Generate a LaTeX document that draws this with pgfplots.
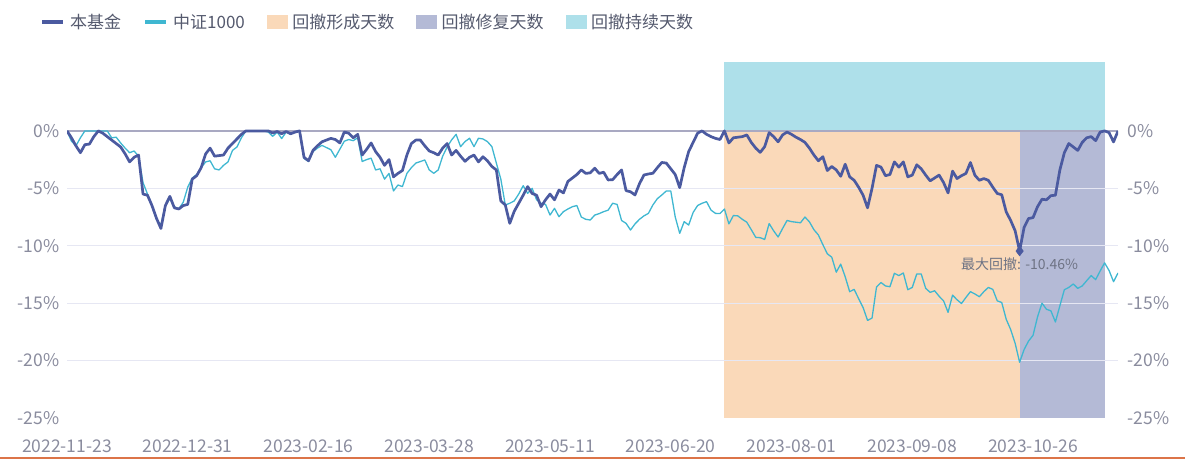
\documentclass[border=0pt]{standalone}
\usepackage{fontspec}
\setmainfont{Noto Sans CJK SC}
\usepackage{pgfplots}
\usepackage{pgfplotstable}
\pgfplotsset{compat=1.18}
\definecolor{fundc}{HTML}{4B5AA0}
\definecolor{idxc}{HTML}{3FB7D1}
\definecolor{orgc}{HTML}{FAD9B9}
\definecolor{purc}{HTML}{B4BAD6}
\definecolor{cyac}{HTML}{AEE0EA}
\definecolor{zeroc}{HTML}{A9A9C2}
\definecolor{gridc}{HTML}{E6E7F3}
\definecolor{tickc}{HTML}{8A8C9E}
\definecolor{legc}{HTML}{555A6E}
\definecolor{botc}{HTML}{DC7448}

\pgfplotstableread{
x y
0 0
1 -0.6
2 -1.3
3 -1.9
4 -1.2
5 -1.15
6 -0.5
7 0
8 -0.2
9 -0.5
10 -0.8
11 -1.1
12 -1.4
13 -2.0
14 -2.7
15 -2.3
16 -2.1
17 -5.5
18 -5.6
19 -6.5
20 -7.6
21 -8.5
22 -6.5
23 -5.7
24 -6.7
25 -6.8
26 -6.5
27 -6.4
28 -4.2
29 -3.9
30 -3.2
31 -2.0
32 -1.5
33 -2.2
34 -2.15
35 -2.1
36 -1.5
37 -1.1
38 -0.7
39 -0.3
40 0
41 0
42 0
43 0
44 0
45 0
46 -0.18
47 -0.05
48 -0.25
49 -0.05
50 -0.25
51 -0.1
52 0
53 -2.3
54 -2.6
55 -1.7
56 -1.3
57 -0.95
58 -0.8
59 -0.65
60 -0.75
61 -1.05
62 -0.1
63 -0.2
64 -0.6
65 -0.3
66 -2.1
67 -1.6
68 -1.05
69 -1.8
70 -2.3
71 -3.0
72 -2.5
73 -4.0
74 -3.7
75 -3.45
76 -2.1
77 -1.1
78 -0.8
79 -0.8
80 -1.3
81 -1.75
82 -1.9
83 -2.1
84 -1.5
85 -1.1
86 -2.1
87 -1.7
88 -2.2
89 -2.65
90 -2.3
91 -2.1
92 -2.7
93 -2.25
94 -2.6
95 -3.1
96 -3.4
97 -6.1
98 -6.45
99 -8.05
100 -7.0
101 -6.3
102 -5.6
103 -4.85
104 -5.45
105 -5.6
106 -6.6
107 -6.0
108 -5.5
109 -6.0
110 -5.15
111 -5.4
112 -4.4
113 -4.1
114 -3.8
115 -3.4
116 -3.7
117 -3.65
118 -3.25
119 -3.7
120 -3.6
121 -4.27
122 -4.25
123 -3.8
124 -3.4
125 -5.2
126 -5.3
127 -5.58
128 -4.6
129 -3.84
130 -3.75
131 -3.69
132 -3.2
133 -2.75
134 -2.8
135 -3.3
136 -3.8
137 -4.94
138 -3.2
139 -1.8
140 -1.0
141 -0.2
142 0
143 -0.3
144 -0.5
145 -0.65
146 -0.75
147 0
148 -1.05
149 -0.6
150 -0.55
151 -0.5
152 -0.35
153 -1.0
154 -1.5
155 -1.87
156 -1.37
157 -0.15
158 -0.5
159 -0.95
160 -0.35
161 -0.1
162 -0.3
163 -0.55
164 -0.75
165 -1.0
166 -1.5
167 -2.1
168 -2.6
169 -2.25
170 -3.45
171 -3.1
172 -3.4
173 -3.95
174 -2.9
175 -4.0
176 -4.3
177 -4.9
178 -5.6
179 -6.7
180 -5.0
181 -3.0
182 -3.15
183 -3.9
184 -3.8
185 -2.7
186 -3.15
187 -2.7
188 -4.0
189 -3.85
190 -2.95
191 -3.3
192 -3.85
193 -4.35
194 -4.1
195 -3.85
196 -4.5
197 -5.4
198 -3.5
199 -4.15
200 -3.9
201 -3.7
202 -2.75
203 -3.86
204 -4.3
205 -4.15
206 -4.3
207 -4.9
208 -5.45
209 -5.56
210 -7.05
211 -7.8
212 -8.7
213 -10.46
214 -8.4
215 -7.63
216 -7.55
217 -6.6
218 -5.95
219 -6.0
220 -5.64
221 -5.6
222 -3.4
223 -1.9
224 -1.1
225 -1.4
226 -1.7
227 -1.0
228 -0.6
229 -0.5
230 -0.85
231 -0.1
232 0
233 -0.15
234 -0.96
235 0
}\fundtable

\pgfplotstableread{
x y
0 0
1 -0.9
2 -1.3
3 -0.6
4 0
5 0
6 0
7 0
8 0
9 0
10 -0.6
11 -0.55
12 -1.05
13 -1.5
14 -1.9
15 -1.75
16 -2.2
17 -4.5
18 -5.5
19 -6.5
20 -7.7
21 -8.2
22 -6.5
23 -5.9
24 -6.6
25 -6.8
26 -6.2
27 -4.9
28 -4.1
29 -3.8
30 -3.2
31 -2.7
32 -2.6
33 -3.3
34 -3.4
35 -3.0
36 -2.7
37 -1.7
38 -1.4
39 -0.6
40 0
41 0
42 0
43 0
44 0
45 -0.1
46 -0.47
47 -0.1
48 -0.67
49 -0.1
50 -0.3
51 -0.1
52 0
53 -2.4
54 -2.66
55 -1.8
56 -1.5
57 -1.26
58 -1.45
59 -1.64
60 -2.3
61 -1.6
62 -0.9
63 -0.75
64 -0.85
65 -0.6
66 -2.66
67 -2.5
68 -2.37
69 -3.4
70 -3.3
71 -4.2
72 -3.7
73 -5.23
74 -4.71
75 -4.85
76 -3.7
77 -3.2
78 -2.8
79 -2.67
80 -2.53
81 -3.4
82 -3.69
83 -3.4
84 -2.2
85 -1.4
86 -0.78
87 -0.3
88 -1.37
89 -0.93
90 -0.64
91 -1.37
92 -0.64
93 -0.7
94 -0.93
95 -1.37
96 -2.8
97 -4.2
98 -6.45
99 -6.3
100 -6.1
101 -5.5
102 -4.77
103 -5.44
104 -5.0
105 -6.0
106 -6.3
107 -6.4
108 -7.33
109 -6.74
110 -7.47
111 -7.03
112 -6.8
113 -6.6
114 -6.5
115 -7.5
116 -7.7
117 -7.76
118 -7.33
119 -7.2
120 -7.03
121 -6.9
122 -6.3
123 -6.4
124 -7.8
125 -8.05
126 -8.63
127 -8.1
128 -7.7
129 -7.4
130 -7.18
131 -6.45
132 -5.9
133 -5.58
134 -5.23
135 -5.23
136 -7.5
137 -8.92
138 -7.9
139 -8.2
140 -7.1
141 -6.5
142 -6.3
143 -6.16
144 -6.9
145 -7.18
146 -7.2
147 -6.8
148 -8.1
149 -7.37
150 -7.4
151 -7.7
152 -7.95
153 -8.6
154 -9.27
155 -9.3
156 -9.45
157 -8.07
158 -8.7
159 -9.24
160 -8.5
161 -7.8
162 -7.9
163 -7.95
164 -8.0
165 -7.5
166 -7.92
167 -8.6
168 -9.06
169 -9.9
170 -10.7
171 -11.0
172 -12.3
173 -11.6
174 -12.7
175 -14.0
176 -13.8
177 -14.6
178 -15.38
179 -16.5
180 -16.3
181 -13.6
182 -13.2
183 -13.5
184 -13.57
185 -12.4
186 -12.6
187 -12.37
188 -13.83
189 -13.63
190 -12.46
191 -12.46
192 -13.71
193 -14.06
194 -13.92
195 -14.4
196 -14.8
197 -15.8
198 -14.3
199 -14.7
200 -15.03
201 -14.5
202 -14.0
203 -14.2
204 -14.44
205 -14.0
206 -13.63
207 -13.8
208 -14.8
209 -14.94
210 -16.4
211 -17.3
212 -18.5
213 -20.15
214 -19.04
215 -18.3
216 -17.8
217 -16.2
218 -15.0
219 -15.53
220 -15.67
221 -16.64
222 -15.23
223 -13.83
224 -13.63
225 -13.33
226 -13.71
227 -13.5
228 -13.04
229 -12.6
230 -12.95
231 -12.2
232 -11.49
233 -12.16
234 -13.13
235 -12.37
}\idxtable

\pgfplotsset{
  legfund/.style={legend image code/.code={\draw[fundc, line width=4bp] (0bp,0bp) -- (21bp,0bp);}},
  legidx/.style={legend image code/.code={\draw[idxc, line width=4bp] (0bp,0bp) -- (21bp,0bp);}},
  legorg/.style={legend image code/.code={\fill[orgc] (0bp,-6.5bp) rectangle (20bp,6.5bp);}},
  legpur/.style={legend image code/.code={\fill[purc] (0bp,-6.5bp) rectangle (20bp,6.5bp);}},
  legcya/.style={legend image code/.code={\fill[cyac] (0bp,-6.5bp) rectangle (20bp,6.5bp);}},
  base/.style={
    at={(67bp,41bp)}, anchor=south west,
    scale only axis, width=1051bp, height=356bp,
    xmin=0, xmax=235, ymin=-25, ymax=6,
    axis line style={draw=none},
    major tick style={draw=none},
    ytick={-25,-20,-15,-10,-5,0},
    yticklabels={-25\%,-20\%,-15\%,-10\%,-5\%,0\%},
    tick label style={font=\fontsize{17.5bp}{20bp}\selectfont, text=tickc},
  },
}

\begin{document}
\begin{tikzpicture}
\useasboundingbox (0bp,0bp) rectangle (1185bp,459bp);
\draw[botc, line width=2bp] (0bp,1bp) -- (1185bp,1bp);
\begin{axis}[base,
  xtick={0,27,54,81,108,135,162,189,216},
  xticklabels={2022-11-23,2022-12-31,2023-02-16,2023-03-28,2023-05-11,2023-06-20,2023-08-01,2023-09-08,2023-10-26},
  yticklabel style={anchor=east, xshift=-4bp},
  xticklabel style={yshift=-18bp},
  legend style={at={(axis description cs:-0.0257,1.112)}, anchor=west,
    draw=none, fill=none, inner sep=0pt, legend columns=-1,
    font=\fontsize{17bp}{20bp}\selectfont, text=legc,
    nodes={inner sep=0pt}, column sep=5bp},
]
\addlegendimage{legfund}\addlegendentry{本基金\rule{17bp}{0pt}}
\addlegendimage{legidx}\addlegendentry{中证1000\rule{17bp}{0pt}}
\addlegendimage{legorg}\addlegendentry{回撤形成天数\rule{17bp}{0pt}}
\addlegendimage{legpur}\addlegendentry{回撤修复天数\rule{17bp}{0pt}}
\addlegendimage{legcya}\addlegendentry{回撤持续天数}

\addplot[fill=orgc, draw=none, forget plot] coordinates {(147,-25) (147,0) (213,0) (213,-25)} -- cycle;
\addplot[fill=purc, draw=none, forget plot] coordinates {(213,-25) (213,0) (232,0) (232,-25)} -- cycle;
\addplot[fill=cyac, draw=none, forget plot] coordinates {(147,0) (147,6) (232,6) (232,0)} -- cycle;

\addplot[gridc, line width=0.9bp, forget plot] coordinates {(0,-25) (235,-25)};
\addplot[gridc, line width=0.9bp, forget plot] coordinates {(0,-20) (235,-20)};
\addplot[gridc, line width=0.9bp, forget plot] coordinates {(0,-15) (235,-15)};
\addplot[gridc, line width=0.9bp, forget plot] coordinates {(0,-10) (235,-10)};
\addplot[gridc, line width=0.9bp, forget plot] coordinates {(0,-5) (235,-5)};
\addplot[zeroc, line width=1.6bp, forget plot] coordinates {(0,0) (235,0)};

\addplot[idxc, line width=1.3bp, line join=round, forget plot] table[x=x, y=y] {\idxtable};
\addplot[fundc, line width=2.7bp, line join=round, forget plot] table[x=x, y=y] {\fundtable};
\addplot[fundc, only marks, mark=diamond*, mark size=5bp, forget plot] coordinates {(213,-10.46)};
\node[anchor=north, text=legc!85, font=\fontsize{14bp}{16bp}\selectfont, inner sep=0pt] at (axis cs:213,-10.46) [yshift=-6bp] {最大回撤: -10.46\%};
\end{axis}
\begin{axis}[base,
  xtick=\empty,
  yticklabel pos=right,
  yticklabel style={anchor=west, xshift=6bp},
]
\end{axis}
\end{tikzpicture}
\end{document}
